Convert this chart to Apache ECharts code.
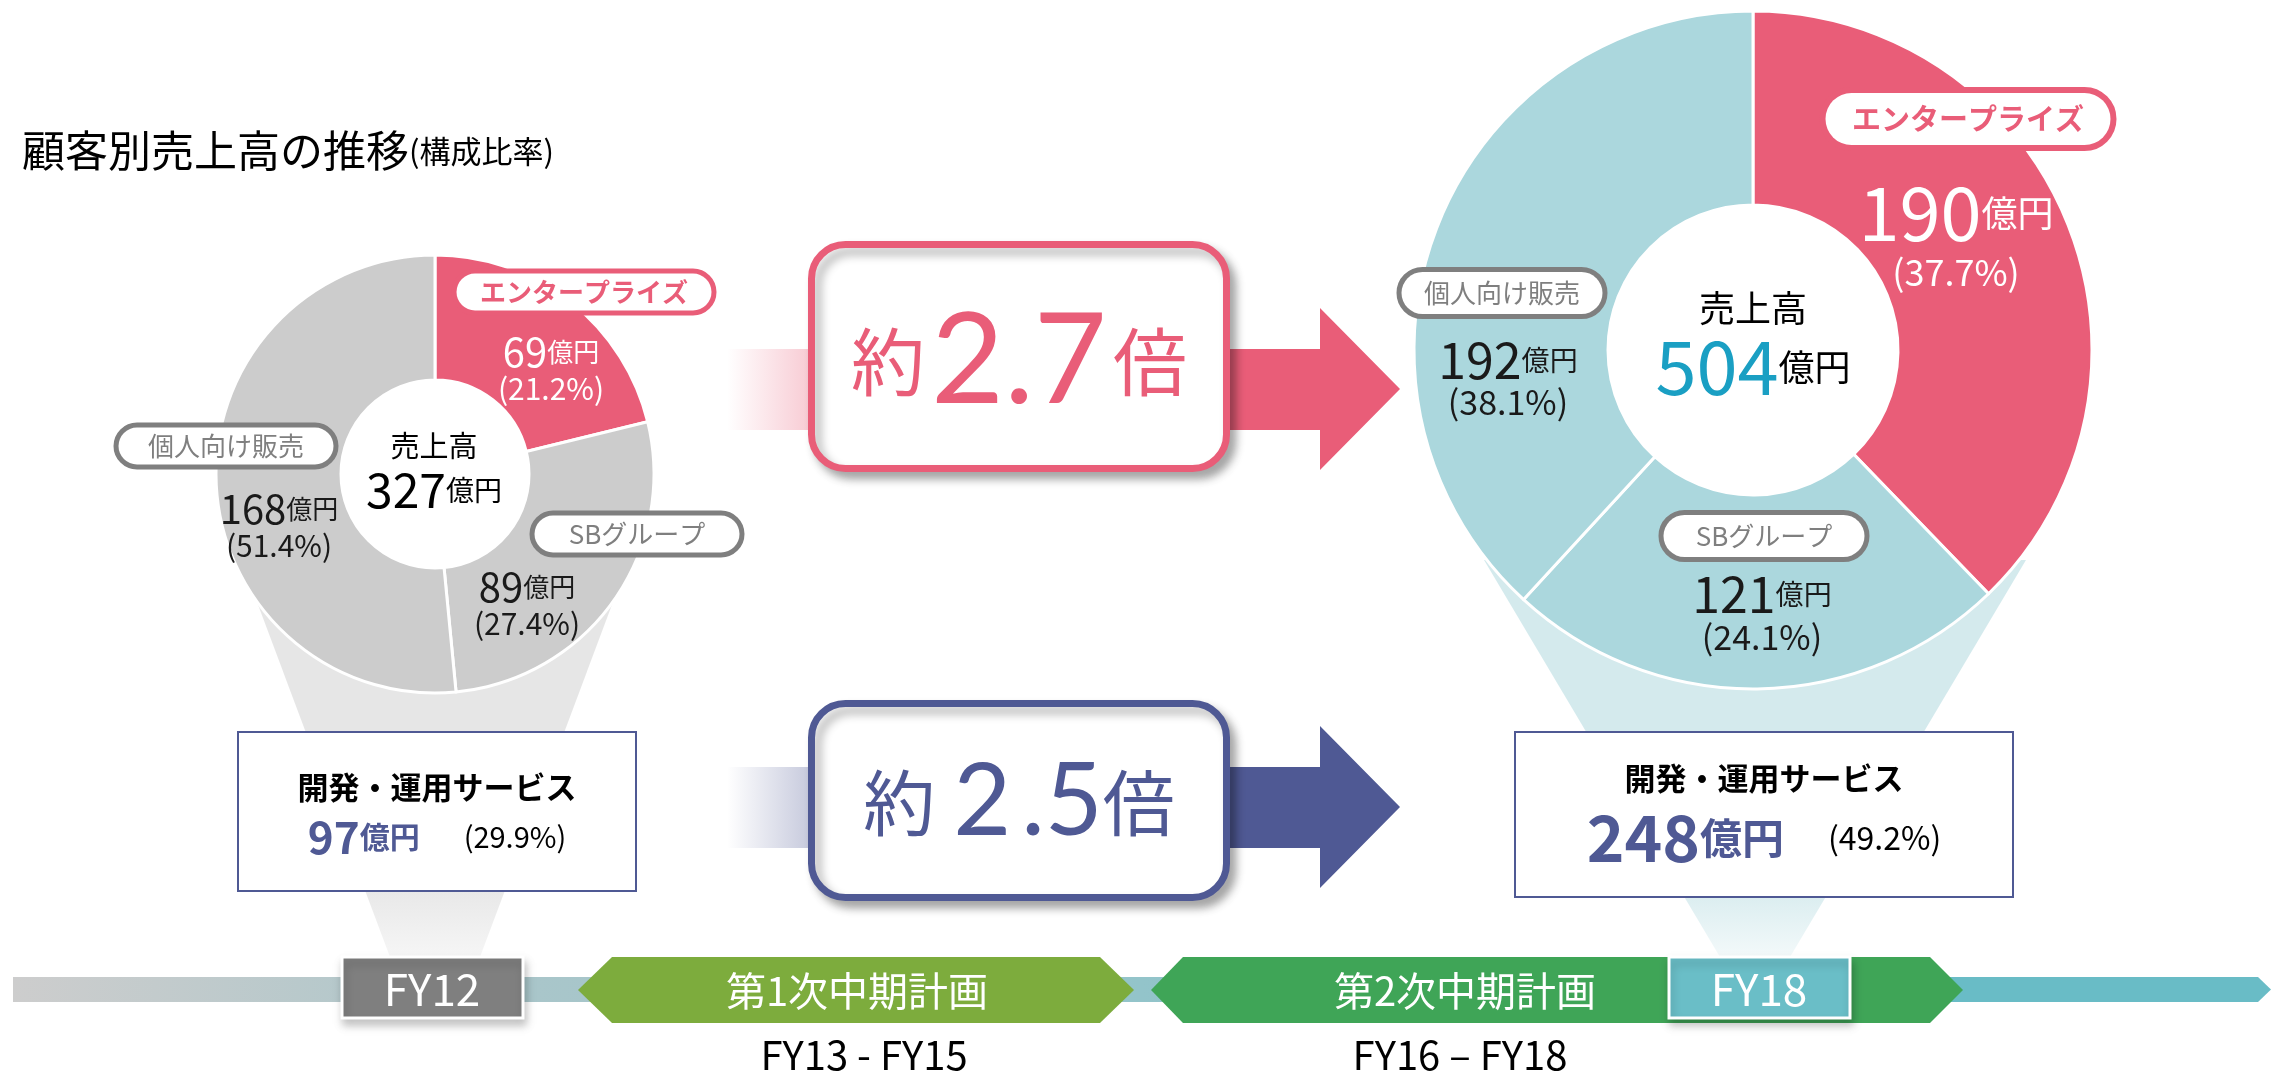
<!DOCTYPE html>
<html>
<head>
<meta charset="utf-8">
<script src="https://cdn.jsdelivr.net/npm/echarts@6/dist/echarts.min.js"></script>
<style>
  html, body { margin: 0; padding: 0; background: #fff; }
  #chart { width: 2272px; height: 1077px; }
</style>
</head>
<body>
<div id="chart"></div>
<script>
// data
const segments = ['エンタープライズ', 'SBグループ', '個人向け販売'];
const salesFY12 = [69, 89, 168];
const salesFY18 = [190, 121, 192];
const shareFY12 = ['21.2%', '27.4%', '51.4%'];
const shareFY18 = ['37.7%', '24.1%', '38.1%'];
const totalSales = [327, 504];
const devOpsSales = [97, 248];
const devOpsShare = ['29.9%', '49.2%'];
const growthRates = ['2.7', '2.5'];
const yearLabels = ['FY12', 'FY18'];
const planNames = ['第1次中期計画', '第2次中期計画'];
const planRanges = ['FY13 - FY15', 'FY16 – FY18'];

const FONT = '"Noto Sans CJK JP", "Noto Sans", sans-serif';
const PINK = '#E95D78';
const NAVY = '#4F5994';
const GRAY = '#7F7F7F';
const INK = '#1A1A1A';

function valueRich(color, n, u, p, nLh, pLh) {
  return {
    n: { fontFamily: FONT, fontSize: n, lineHeight: nLh, color: color },
    u: { fontFamily: FONT, fontSize: u, lineHeight: u, color: color },
    p: { fontFamily: FONT, fontSize: p, lineHeight: pLh, color: color }
  };
}

const pies = [
  {
    center: [435, 474], radius: [94, 219],
    colors: [PINK, '#CCCCCC', '#CCCCCC'],
    values: salesFY12, shares: shareFY12,
    valuePos: [[551, 369], [527, 604], [279, 526]],
    valueRich: [
      valueRich('#fff', 40, 26, 30, 40, 34),
      valueRich(INK, 40, 26, 30, 40, 34),
      valueRich(INK, 40, 26, 30, 40, 34)
    ],
    pillPos: [[584, 292], [637, 534], [226, 446]],
    pillSize: [[260, 42, 26, 5], [210, 42, 26, 5], [220, 42, 26, 5]]
  },
  {
    center: [1753, 350], radius: [145, 339],
    colors: [PINK, '#ABD7DD', '#ABD7DD'],
    values: salesFY18, shares: shareFY18,
    valuePos: [[1956, 237], [1762, 613], [1508, 379]],
    valueRich: [
      valueRich('#fff', 74, 36, 36, 70, 48),
      valueRich(INK, 50, 28, 34, 48, 38),
      valueRich(INK, 50, 28, 34, 46, 38)
    ],
    pillPos: [[1968, 119], [1764, 536], [1502, 293]],
    pillSize: [[291, 58, 29, 6], [206, 47, 26, 5], [206, 47, 26, 5]]
  }
];

const series = [];
pies.forEach(function (cfg) {
  series.push({
    type: 'pie',
    center: cfg.center,
    radius: cfg.radius,
    startAngle: 90,
    clockwise: true,
    silent: true,
    z: 2,
    avoidLabelOverlap: false,
    itemStyle: { borderColor: '#fff', borderWidth: 3 },
    label: {
      show: true,
      position: 'inside',
      align: 'center',
      formatter: function (p) {
        return '{n|' + cfg.values[p.dataIndex] + '}{u|億円}\n{p|(' + cfg.shares[p.dataIndex] + ')}';
      }
    },
    labelLine: { show: false },
    labelLayout: function (p) {
      const pos = cfg.valuePos[p.dataIndex];
      return { x: pos[0], y: pos[1], align: 'center', verticalAlign: 'middle' };
    },
    data: segments.map(function (name, j) {
      return {
        name: name,
        value: cfg.values[j],
        itemStyle: { color: cfg.colors[j] },
        label: { rich: cfg.valueRich[j] }
      };
    })
  });
  // same slices again, transparent, carrying the segment name pills
  series.push({
    type: 'pie',
    center: cfg.center,
    radius: cfg.radius,
    startAngle: 90,
    clockwise: true,
    silent: true,
    z: 3,
    avoidLabelOverlap: false,
    itemStyle: { color: 'transparent', borderWidth: 0 },
    labelLine: { show: false },
    labelLayout: function (p) {
      const pos = cfg.pillPos[p.dataIndex];
      return { x: pos[0], y: pos[1], align: 'center', verticalAlign: 'middle' };
    },
    data: segments.map(function (name, j) {
      const s = cfg.pillSize[j];
      const c = j === 0 ? PINK : GRAY;
      return {
        name: name,
        value: cfg.values[j],
        label: {
          show: true,
          position: 'inside',
          formatter: '{b}',
          fontFamily: FONT,
          fontSize: s[2],
          lineHeight: s[2],
          fontWeight: j === 0 ? 'bold' : 'normal',
          color: c,
          backgroundColor: '#fff',
          borderColor: c,
          borderWidth: s[3],
          borderRadius: 40,
          padding: [(s[1] - s[2] - s[3]) / 2, 12],
          width: s[0] - 24 - s[3],
          align: 'center'
        }
      };
    })
  });
});

function funnel(cx, yTop, halfTop, yBot, halfBot, color, fade) {
  return {
    type: 'polygon', z: 0, silent: true,
    shape: { points: [[cx - halfTop, yTop], [cx + halfTop, yTop], [cx + halfBot, yBot], [cx - halfBot, yBot]] },
    style: {
      fill: new echarts.graphic.LinearGradient(0, 0, 0, 1, [
        { offset: 0, color: color },
        { offset: 0.8, color: color },
        { offset: 1, color: fade }
      ])
    }
  };
}

function arrow(yMid, color) {
  return [
    {
      type: 'rect', z: 1, silent: true,
      shape: { x: 727, y: yMid - 40, width: 84, height: 81 },
      style: {
        fill: new echarts.graphic.LinearGradient(0, 0, 1, 0, [
          { offset: 0, color: echarts.color.modifyAlpha(color, 0) },
          { offset: 1, color: echarts.color.modifyAlpha(color, 0.32) }
        ])
      }
    },
    {
      type: 'polygon', z: 1, silent: true,
      shape: { points: [[1225, yMid - 40], [1320, yMid - 40], [1320, yMid - 81], [1400, yMid],
                        [1320, yMid + 81], [1320, yMid + 41], [1225, yMid + 41]] },
      style: { fill: color }
    }
  ];
}

function growthBox(y, h, color) {
  return {
    type: 'rect', z: 5, silent: true,
    shape: { x: 811.5, y: y + 3.5, width: 415, height: h - 7, r: 34 },
    style: {
      fill: '#fff', stroke: color, lineWidth: 7,
      shadowBlur: 10, shadowOffsetX: 6, shadowOffsetY: 7, shadowColor: 'rgba(0,0,0,0.3)'
    }
  };
}

function devOpsBox(x, y, w, h, k, lineY, vSize, uSize, pSize, gap) {
  return [
    {
      type: 'rect', z: 5, silent: true,
      shape: { x: x, y: y, width: w, height: h },
      style: { fill: '#fff', stroke: NAVY, lineWidth: 2 }
    },
    {
      type: 'text', z: 6, silent: true, x: x + w / 2, y: lineY[0],
      style: {
        text: '開発・運用サービス', fontFamily: FONT, fontSize: 31, fontWeight: 'bold',
        fill: '#000', align: 'center', verticalAlign: 'middle'
      }
    },
    {
      type: 'text', z: 6, silent: true, x: x + w / 2, y: lineY[1],
      style: {
        text: '{v|' + devOpsSales[k] + '}{u|億円}{s| }{p|(' + devOpsShare[k] + ')}',
        align: 'center', verticalAlign: 'middle',
        rich: {
          v: { fontFamily: FONT, fontSize: vSize, fontWeight: 'bold', fill: NAVY, lineHeight: vSize },
          u: { fontFamily: FONT, fontSize: uSize, fontWeight: 'bold', fill: NAVY, lineHeight: uSize },
          s: { fontFamily: FONT, fontSize: pSize, lineHeight: pSize, width: gap },
          p: { fontFamily: FONT, fontSize: pSize, fill: '#000', lineHeight: pSize + 4 }
        }
      }
    }
  ];
}

function yearBox(x, k, color) {
  return [
    {
      type: 'rect', z: 8, silent: true,
      shape: { x: x, y: 957, width: 181, height: 61 },
      style: {
        fill: color, stroke: '#fff', lineWidth: 3,
        shadowBlur: 8, shadowOffsetX: 2, shadowOffsetY: 6, shadowColor: 'rgba(0,0,0,0.22)'
      }
    },
    {
      type: 'text', z: 9, silent: true, x: x + 90, y: 989,
      style: {
        text: yearLabels[k], fontFamily: FONT, fontSize: 44, fill: '#fff',
        align: 'center', verticalAlign: 'middle'
      }
    }
  ];
}

function plan(points, color, k, textX, rangeX) {
  return [
    {
      type: 'polygon', z: 7, silent: true,
      shape: { points: points },
      style: { fill: color }
    },
    {
      type: 'text', z: 9, silent: true, x: textX, y: 991,
      style: {
        text: planNames[k], fontFamily: FONT, fontSize: 40, fill: '#fff',
        align: 'center', verticalAlign: 'middle'
      }
    },
    {
      type: 'text', z: 9, silent: true, x: rangeX, y: 1055,
      style: {
        text: planRanges[k], fontFamily: FONT, fontSize: 40, fill: '#000',
        align: 'center', verticalAlign: 'middle'
      }
    }
  ];
}

function centerText(x, y, k, a, b, c, aLh, bLh, numColor) {
  return {
    type: 'text', z: 10, silent: true, x: x, y: y,
    style: {
      text: '{a|売上高}\n{b|' + totalSales[k] + '}{c|億円}',
      align: 'center', verticalAlign: 'middle',
      rich: {
        a: { fontFamily: FONT, fontSize: a, lineHeight: aLh, fill: '#000', align: 'center' },
        b: { fontFamily: FONT, fontSize: b, lineHeight: bLh, fill: numColor },
        c: { fontFamily: FONT, fontSize: c, lineHeight: c, fill: '#000' }
      }
    }
  };
}

const graphics = [].concat(
  [
    {
      type: 'text', z: 10, silent: true, x: 22, y: 151,
      style: {
        text: '{t|顧客別売上高の推移}{s|(構成比率)}',
        verticalAlign: 'middle',
        rich: {
          t: { fontFamily: FONT, fontSize: 43, lineHeight: 46, fill: '#000' },
          s: { fontFamily: FONT, fontSize: 31, lineHeight: 36, fill: '#000' }
        }
      }
    },
    funnel(435, 578, 187, 957, 45, '#E6E6E6', '#F6F6F6'),
    funnel(1755, 560, 271, 957, 35, '#D4EAED', '#F3F9FA'),
    {
      type: 'polygon', z: 6, silent: true,
      shape: { points: [[13, 977], [2258, 977], [2271, 989.5], [2258, 1002], [13, 1002]] },
      style: {
        fill: new echarts.graphic.LinearGradient(0, 0, 1, 0, [
          { offset: 0, color: '#CDCDCD' },
          { offset: 0.22, color: '#AAC6CA' },
          { offset: 0.5, color: '#93C4CA' },
          { offset: 0.86, color: '#69BCC6' },
          { offset: 1, color: '#69BCC6' }
        ])
      }
    }
  ],
  arrow(389, PINK),
  arrow(807, NAVY),
  [
    growthBox(241, 231, PINK),
    growthBox(700, 201, NAVY),
    {
      type: 'text', z: 6, silent: true, x: 1019, y: 362,
      style: {
        text: '{a|約}{b|' + growthRates[0] + '}{a|倍}',
        align: 'center', verticalAlign: 'middle',
        rich: {
          a: { fontFamily: FONT, fontSize: 74, lineHeight: 82, fill: PINK },
          b: { fontFamily: 'Lato, ' + FONT, fontSize: 126, lineHeight: 126, fill: PINK, padding: [0, 6, 0, 6] }
        }
      }
    },
    {
      type: 'text', z: 6, silent: true, x: 1019, y: 803,
      style: {
        text: '{a|約}{b|' + growthRates[1].charAt(0) + '}{c|' + growthRates[1].slice(1) + '}{a|倍}',
        align: 'center', verticalAlign: 'middle',
        rich: {
          a: { fontFamily: FONT, fontSize: 72, lineHeight: 78, fill: NAVY },
          b: { fontFamily: 'Lato, ' + FONT, fontSize: 100, lineHeight: 100, fill: NAVY, padding: [0, 10, 0, 18] },
          c: { fontFamily: 'Lato, ' + FONT, fontSize: 100, lineHeight: 100, fill: NAVY }
        }
      }
    },
    centerText(434, 470, 0, 29, 48, 28, 40, 48, '#000'),
    centerText(1753, 343, 1, 36, 74, 36, 48, 70, '#1A9FC3')
  ],
  devOpsBox(238, 732, 398, 159, 0, [787, 837], 44, 30, 29, 44),
  devOpsBox(1515, 732, 498, 165, 1, [778, 838], 64, 42, 32, 44),
  plan([[578, 990], [612, 957], [1100, 957], [1134, 990], [1100, 1023], [612, 1023]], '#7DAC3D', 0, 857, 864),
  plan([[1151, 990], [1183, 957], [1930, 957], [1963, 990], [1930, 1023], [1183, 1023]], '#3FA557', 1, 1465, 1460),
  yearBox(342, 0, '#7F7F7F'),
  yearBox(1669, 1, '#6ABEC7')
);

const myChart = echarts.init(document.getElementById('chart'));
let option = {
  animation: false,
  backgroundColor: '#fff',
  textStyle: { fontFamily: FONT },
  series: series,
  graphic: { elements: graphics }
};
option && myChart.setOption(option);
</script>
</body>
</html>
